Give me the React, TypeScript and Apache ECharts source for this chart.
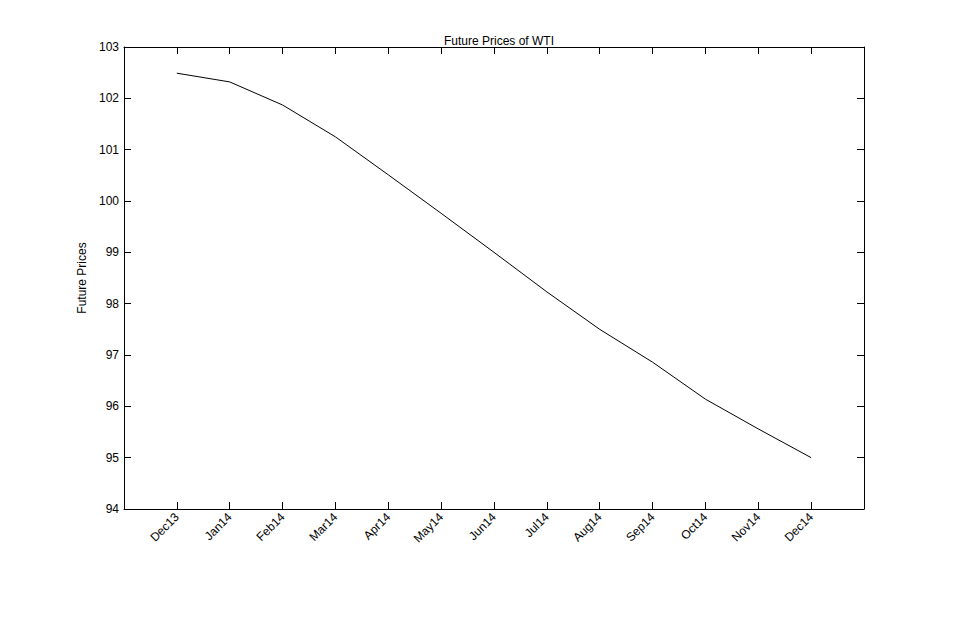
import React, { useEffect, useRef } from "react";
import * as echarts from "echarts";

const categories = ["Dec13", "Jan14", "Feb14", "Mar14", "Apr14", "May14", "Jun14", "Jul14", "Aug14", "Sep14", "Oct14", "Nov14", "Dec14"];
const prices = [102.49, 102.32, 101.87, 101.25, 100.51, 99.76, 99.0, 98.23, 97.5, 96.86, 96.14, 95.56, 95.0];
const yTicks = [94, 95, 96, 97, 98, 99, 100, 101, 102, 103];

const FONT = "'Liberation Sans', Arial, Helvetica, sans-serif";

export default function App() {
  const ref = useRef<HTMLDivElement>(null);
  useEffect(() => {
    if (!ref.current) return;
    const chart = echarts.init(ref.current, undefined, { renderer: "svg" });
    const axisLine = { show: true, onZero: false, lineStyle: { color: "#000", width: 1 } };
    const tickCommon = { show: true, inside: true, length: 7, lineStyle: { color: "#000", width: 1 } };
    const xIdx = categories.map((_, i) => i);
    chart.setOption({
      animation: false,
      backgroundColor: "#fff",
      title: {
        text: "Future Prices of WTI",
        left: 494,
        top: 30,
        textAlign: "center",
        textStyle: { fontFamily: FONT, fontSize: 12, fontWeight: "normal", color: "#000" },
      },
      grid: { left: 124, top: 47, width: 740, height: 462, containLabel: false, show: false },
      xAxis: [
        {
          type: "value",
          min: -1,
          max: 13,
          interval: 1,
          position: "bottom",
          axisLine,
          axisTick: { ...tickCommon, customValues: xIdx },
          splitLine: { show: false },
          axisLabel: {
            show: true,
            rotate: 45,
            margin: 6,
            color: "#000",
            fontFamily: FONT,
            fontSize: 12,
            customValues: xIdx,
            formatter: (v: number) => (Number.isInteger(v) && v >= 0 && v < categories.length ? categories[v] : ""),
          },
        },
        {
          type: "value",
          min: -1,
          max: 13,
          interval: 1,
          position: "top",
          axisLine,
          axisTick: { ...tickCommon, customValues: xIdx },
          splitLine: { show: false },
          axisLabel: { show: false },
        },
      ],
      yAxis: [
        {
          type: "value",
          min: 94,
          max: 103,
          interval: 1,
          position: "left",
          name: "Future Prices",
          nameLocation: "middle",
          nameGap: 33,
          nameRotate: 90,
          nameTextStyle: { fontFamily: FONT, fontSize: 12, color: "#000" },
          axisLine,
          axisTick: { ...tickCommon, customValues: yTicks },
          splitLine: { show: false },
          axisLabel: { show: true, margin: 5, color: "#000", fontFamily: FONT, fontSize: 12, customValues: yTicks },
        },
        {
          type: "value",
          min: 94,
          max: 103,
          interval: 1,
          position: "right",
          axisLine,
          axisTick: { ...tickCommon, customValues: yTicks },
          splitLine: { show: false },
          axisLabel: { show: false },
        },
      ],
      series: [
        {
          type: "line",
          xAxisIndex: 0,
          yAxisIndex: 0,
          data: prices.map((p, i) => [i, p]),
          showSymbol: false,
          symbol: "none",
          lineStyle: { color: "#000", width: 1 },
        },
      ],
    });
    return () => chart.dispose();
  }, []);
  return <div ref={ref} style={{ position: "fixed", left: 0, top: 0, width: 956, height: 626 }} />;
}
